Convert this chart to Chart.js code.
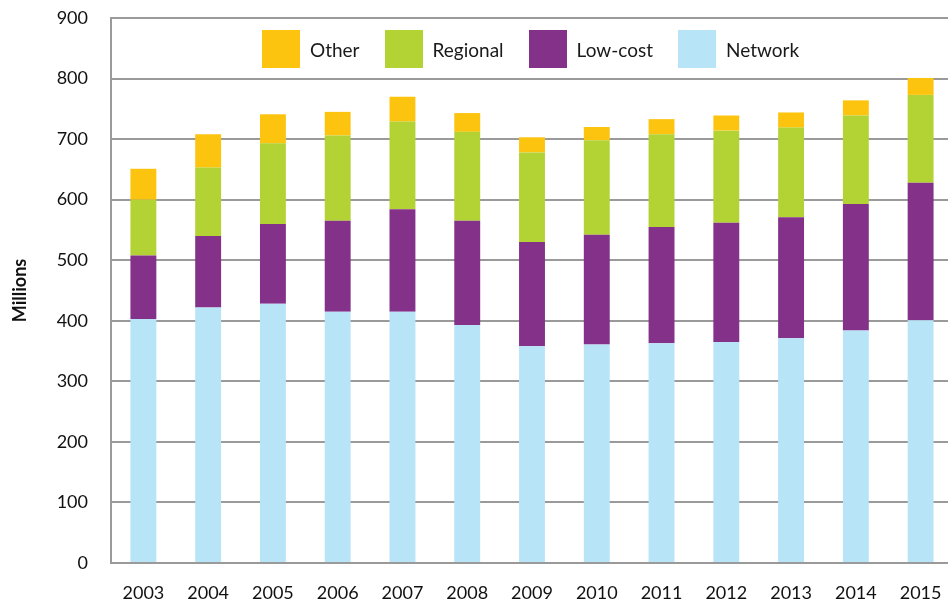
<!DOCTYPE html>
<html>
<head>
<meta charset="utf-8">
<script src="https://cdn.jsdelivr.net/npm/chart.js@4/dist/chart.umd.min.js"></script>
<style>
  html, body { margin: 0; padding: 0; background: #fff; overflow: hidden; }
  .wrap { position: relative; width: 953px; height: 603px; }
  #legend {
    position: absolute; top: 30px; left: 262px;
    display: flex; align-items: center;
    font-family: Lato, "Open Sans", sans-serif; font-size: 19px; color: #1a1a1a;
  }
  #legend .item { display: flex; align-items: center; margin-right: 25px; }
  #legend .box { width: 38px; height: 38px; margin-right: 10px; }
</style>
</head>
<body>
<div class="wrap">
  <canvas id="myChart"></canvas>
  <div id="legend"></div>
</div>
<script>
const years = ["2003", "2004", "2005", "2006", "2007", "2008", "2009", "2010", "2011", "2012", "2013", "2014", "2015"];
const network = [403, 422, 428, 415, 415, 393, 358, 361, 363, 365, 371, 384, 401];
const lowCost = [105, 118, 132, 150, 169, 172, 172, 181, 192, 197, 200, 209, 227];
const regional = [92, 113, 133, 141, 145, 147, 148, 156, 153, 152, 148, 146, 145];
const other = [51, 55, 48, 39, 41, 31, 25, 22, 25, 25, 25, 25, 28];
const yTicks = [0, 100, 200, 300, 400, 500, 600, 700, 800, 900];

const gridColor = "#9a9a9a";
const font = "Lato, 'Open Sans', sans-serif";

const ctx = document.getElementById("myChart");

const chart = new Chart(ctx, {
  type: "bar",
  data: {
    labels: years,
    datasets: [
      { label: "Network", data: network, backgroundColor: "#b8e4f8" },
      { label: "Low-cost", data: lowCost, backgroundColor: "#84318a" },
      { label: "Regional", data: regional, backgroundColor: "#b3d334" },
      { label: "Other", data: other, backgroundColor: "#fdc40f" },
    ],
  },
  options: {
    responsive: true,
    maintainAspectRatio: false,
    animation: false,
    layout: { padding: { top: 18, right: 0, bottom: 0, left: 0 } },
    datasets: {
      bar: { barPercentage: 0.4, categoryPercentage: 1, borderWidth: 0 },
    },
    plugins: {
      tooltip: { enabled: false },
      legend: { display: false },
    },
    scales: {
      x: {
        stacked: true,
        afterFit(scale) {
          scale.height = 40;
        },
        // invisible tick marks push the labels away from the axis
        grid: { display: false, drawTicks: true, tickLength: 19, tickColor: "transparent" },
        border: { display: true, color: gridColor, width: 2 },
        ticks: { color: "#111", padding: 0, font: { family: font, size: 18 } },
      },
      y: {
        stacked: true,
        min: 0,
        max: 900,
        afterBuildTicks(scale) {
          scale.ticks = yTicks.map((v) => ({ value: v }));
        },
        afterFit(scale) {
          scale.width = 111;
        },
        grid: { color: gridColor, lineWidth: 2, drawTicks: true, tickLength: 23, tickColor: "transparent" },
        border: { display: true, color: gridColor, width: 2 },
        ticks: { color: "#111", padding: 0, font: { family: font, size: 18 } },
        title: {
          display: true,
          text: "Millions",
          color: "#111",
          padding: { top: 9, bottom: 0 },
          font: { family: font, size: 18, weight: "bold" },
        },
      },
    },
  },
});

// legend sits inside the plot, top to bottom order reversed like the stack
const legendEl = document.getElementById("legend");
let html = "";
chart.data.datasets
  .slice()
  .reverse()
  .forEach((ds) => {
    html += `<div class="item"><span class="box" style="background:${ds.backgroundColor}"></span>${ds.label}</div>`;
  });
legendEl.innerHTML = html;
</script>
</body>
</html>
